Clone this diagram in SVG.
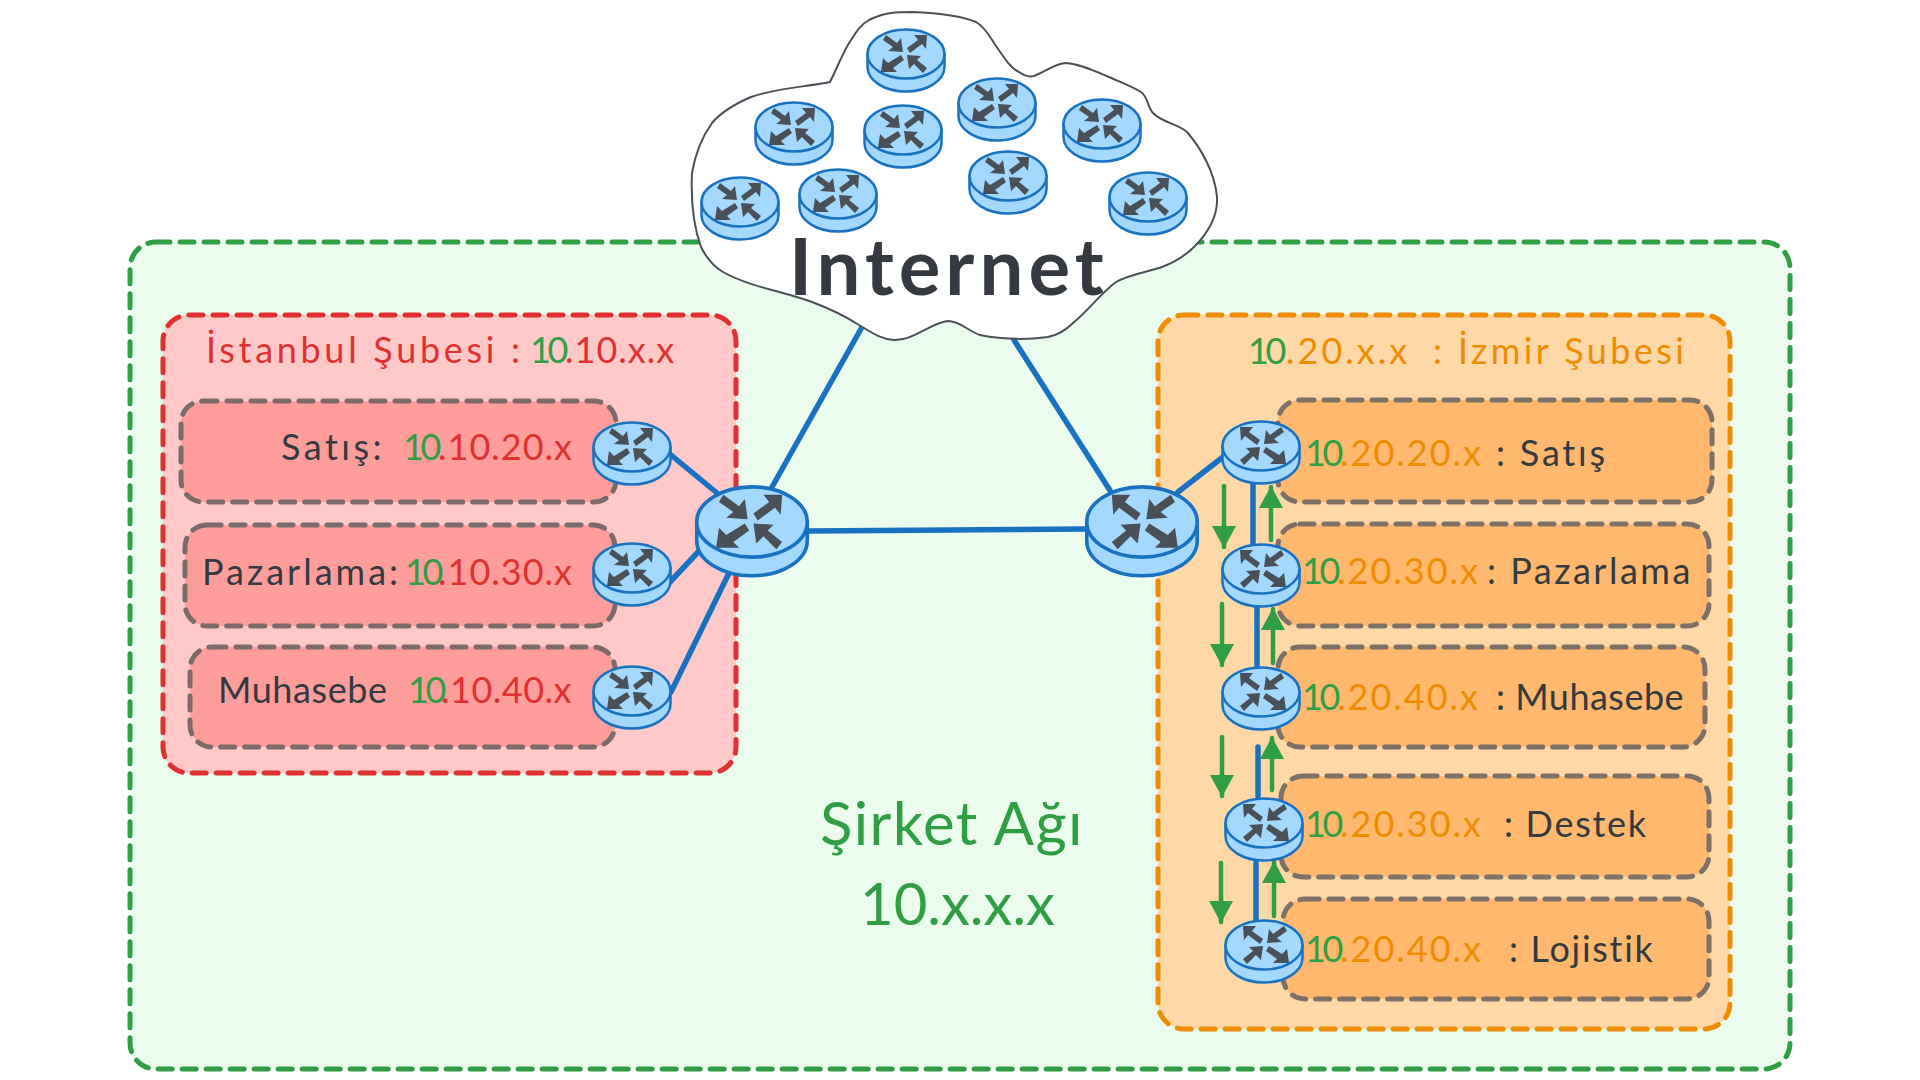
<svg xmlns="http://www.w3.org/2000/svg" width="1920" height="1080" viewBox="0 0 1920 1080">
<style>
text{font-family:"Lato","Noto Sans",sans-serif;font-size:36px;fill:#343a40}
.g{fill:#2f9e44}.r{fill:#e03131}.o{fill:#f08c00}.d{fill:#343a40}
.n{letter-spacing:-3.5px}
.box{stroke-width:5;stroke-dasharray:14 10;stroke-linecap:round}
.redin{fill:#ff9c9c;stroke:#7d6b6b;stroke-width:5;stroke-dasharray:14 10;stroke-linecap:round}
.orgin{fill:#ffb86e;stroke:#7d7066;stroke-width:5;stroke-dasharray:14 10;stroke-linecap:round}
.link{stroke:#1971c2;stroke-width:5.5;fill:none;stroke-linecap:round}
.flow{stroke:#2f9e44;stroke-width:4.5;fill:none;stroke-linecap:round;marker-end:url(#ah)}
</style>
<defs>
<marker id="ah" markerUnits="userSpaceOnUse" markerWidth="24" markerHeight="26" refX="21" refY="12" orient="auto"><path d="M0,0L22,12L0,24z" fill="#2f9e44"/></marker>
<g id="router">
<path d="M-38.5,0v13a38.5,24.5 0 0 0 77,0v-13z" fill="#a5d8ff" stroke="#1971c2" stroke-width="2.5"/>
<ellipse rx="38.5" ry="24.5" fill="#a5d8ff" stroke="#1971c2" stroke-width="2.5"/>
<g fill="#495057" stroke="none">
<path d="M-23,-14L-20,-19L-9,-11L-5,-16L-3,-2L-18,-3L-13,-7z"/>
<path d="M1,-6L12,-14L8,-19L21,-19L20,-5L16,-10L4,-1z"/>
<path d="M-5,1L-2,6L-13,14L-9,18L-25,18L-23,4L-18,9z"/>
<path d="M21,14L17,19L8,10L3,15L1,1L15,2L11,6z"/>
</g>
</g>
</defs>
<rect width="1920" height="1080" fill="#fff"/>
<g id="sirket-agi"><rect class="box" x="130" y="242" width="1660" height="827" rx="26" fill="#ebfbee" stroke="#2f9e44"/></g>
<g id="istanbul"><rect class="box" x="163" y="315" width="573" height="458" rx="26" fill="#ffc9c9" stroke="#e03131"/></g>
<g id="izmir"><rect class="box" x="1158" y="315" width="572" height="714" rx="26" fill="#ffd8a8" stroke="#f08c00"/></g>
<g id="ist-satis-box"><rect class="redin" x="181" y="401" width="435" height="101" rx="22"/></g>
<g id="ist-pazarlama-box"><rect class="redin" x="185" y="525" width="430" height="101" rx="22"/></g>
<g id="ist-muhasebe-box"><rect class="redin" x="190" y="647" width="425" height="100" rx="22"/></g>
<g id="izm-satis-box"><rect class="orgin" x="1278" y="400" width="434" height="102" rx="22"/></g>
<g id="izm-pazarlama-box"><rect class="orgin" x="1278" y="524" width="431" height="102" rx="22"/></g>
<g id="izm-muhasebe-box"><rect class="orgin" x="1278" y="647" width="427" height="100" rx="22"/></g>
<g id="izm-destek-box"><rect class="orgin" x="1281" y="776" width="428" height="101" rx="22"/></g>
<g id="izm-lojistik-box"><rect class="orgin" x="1283" y="899" width="426" height="100" rx="22"/></g>
<g id="connectors">
<path class="link" d="M671,455L717,493M670,582L700,550M671,692L729,573M772,487L862,327M1014,340L1111,492M808,531L1087,529M1178,492L1223,457M1253,483L1253,545M1257,607L1257,667M1258,747L1258,796M1256,863L1256,919"/>
<path class="flow" d="M1224,486V547"/><path class="flow" d="M1271,540V487"/>
<path class="flow" d="M1222,604V665"/><path class="flow" d="M1273,663V609"/>
<path class="flow" d="M1222,737V796"/><path class="flow" d="M1272,790V738"/>
<path class="flow" d="M1221,863V922"/><path class="flow" d="M1274,916V862"/>
</g>
<g id="internet"><path d="M830,82C838,66 844,50 851,40C858,29 862,24 869,20C885,12 898,12 912,12C935,13 962,16 976,22C985,27 990,37 994,43C1003,56 1010,68 1019,72C1026,77 1030,77 1034,76C1045,72 1056,63 1066,63C1080,64 1095,71 1109,77C1120,82 1131,86 1141,92C1148,97 1147,106 1153,113C1161,122 1178,124 1187,132C1201,148 1215,173 1217,197C1218,216 1207,234 1194,247C1185,256 1175,262 1162,267C1148,272 1130,274 1116,282C1101,293 1088,311 1073,323C1066,330 1058,335 1048,337C1025,340 1000,339 980,335C968,331 960,321 948,321C932,322 913,341 894,340C880,339 871,332 859,325C845,316 828,308 812,302C782,291 750,287 723,272C711,265 705,255 701,247C693,225 691,196 692,173C695,155 702,137 712,123C723,110 737,103 751,97C776,88 806,87 830,82Z" fill="#fff" stroke="#495057" stroke-width="2"/></g>
<g id="r-c1"><use href="#router" transform="translate(906,54)"/></g>
<g id="r-c2"><use href="#router" transform="translate(794,127)"/></g>
<g id="r-c3"><use href="#router" transform="translate(903,130)"/></g>
<g id="r-c4"><use href="#router" transform="translate(997,103)"/></g>
<g id="r-c5"><use href="#router" transform="translate(1102,124)"/></g>
<g id="r-c6"><use href="#router" transform="translate(740,202)"/></g>
<g id="r-c7"><use href="#router" transform="translate(838,194)"/></g>
<g id="r-c8"><use href="#router" transform="translate(1008,176)"/></g>
<g id="r-c9"><use href="#router" transform="translate(1148,197)"/></g>
<g id="r-l1"><use href="#router" transform="translate(632,447)"/></g>
<g id="r-l2"><use href="#router" transform="translate(632,568)"/></g>
<g id="r-l3"><use href="#router" transform="translate(632,691)"/></g>
<g id="r-left"><use href="#router" transform="translate(752,522) scale(1.435)"/></g>
<g id="r-right"><use href="#router" transform="translate(1142,522) scale(-1.435,1.435)"/></g>
<g id="r-r1"><use href="#router" transform="translate(1261,446) scale(-1,1)"/></g>
<g id="r-r2"><use href="#router" transform="translate(1261,569) scale(-1,1)"/></g>
<g id="r-r3"><use href="#router" transform="translate(1261,692) scale(-1,1)"/></g>
<g id="r-r4"><use href="#router" transform="translate(1264,823) scale(-1,1)"/></g>
<g id="r-r5"><use href="#router" transform="translate(1264,945) scale(-1,1)"/></g>
<g id="labels">
<text x="789" y="295" style="font-size:78px;font-weight:700;letter-spacing:5px">Internet</text>
<text y="363"><tspan x="206" class="r" letter-spacing="3.7">İstanbul Şubesi :</tspan><tspan x="530" class="g n">10</tspan><tspan x="565" class="r" letter-spacing="1">.10.x.x</tspan></text>
<text y="460"><tspan x="281" class="d" letter-spacing="3.5">Satış:</tspan><tspan x="403" class="g n">10</tspan><tspan x="438" class="r" letter-spacing="1">.10.20.x</tspan></text>
<text y="585"><tspan x="202" class="d" letter-spacing="3">Pazarlama:</tspan><tspan x="405" class="g n">10</tspan><tspan x="438" class="r" letter-spacing="1">.10.30.x</tspan></text>
<text y="703"><tspan x="218" class="d" letter-spacing="0.6">Muhasebe</tspan><tspan x="408" class="g n">10</tspan><tspan x="441" class="r" letter-spacing="0.5">.10.40.x</tspan></text>
<text y="364"><tspan x="1248" class="g n">10</tspan><tspan x="1286" class="o" letter-spacing="3">.20.x.x</tspan><tspan x="1433" class="o" letter-spacing="3.4">: İzmir Şubesi</tspan></text>
<text y="466"><tspan x="1305" class="g n">10</tspan><tspan x="1340" class="o" letter-spacing="2">.20.20.x</tspan><tspan x="1496" class="d" letter-spacing="2.8">: Satış</tspan></text>
<text y="584"><tspan x="1302" class="g n">10</tspan><tspan x="1337" class="o" letter-spacing="2">.20.30.x</tspan><tspan x="1487" class="d" letter-spacing="2.5">: Pazarlama</tspan></text>
<text y="710"><tspan x="1302" class="g n">10</tspan><tspan x="1337" class="o" letter-spacing="2">.20.40.x</tspan><tspan x="1496" class="d" letter-spacing="0.5">: Muhasebe</tspan></text>
<text y="837"><tspan x="1305" class="g n">10</tspan><tspan x="1340" class="o" letter-spacing="2">.20.30.x</tspan><tspan x="1504" class="d" letter-spacing="1.7">: Destek</tspan></text>
<text y="962"><tspan x="1305" class="g n">10</tspan><tspan x="1340" class="o" letter-spacing="2">.20.40.x</tspan><tspan x="1509" class="d" letter-spacing="1.7">: Lojistik</tspan></text>
<text x="820" y="845" class="g" style="font-size:60px;letter-spacing:1.4px">Şirket Ağı</text>
<text x="860" y="925" class="g" style="font-size:58px">10.x.x.x</text>
</g>
</svg>
